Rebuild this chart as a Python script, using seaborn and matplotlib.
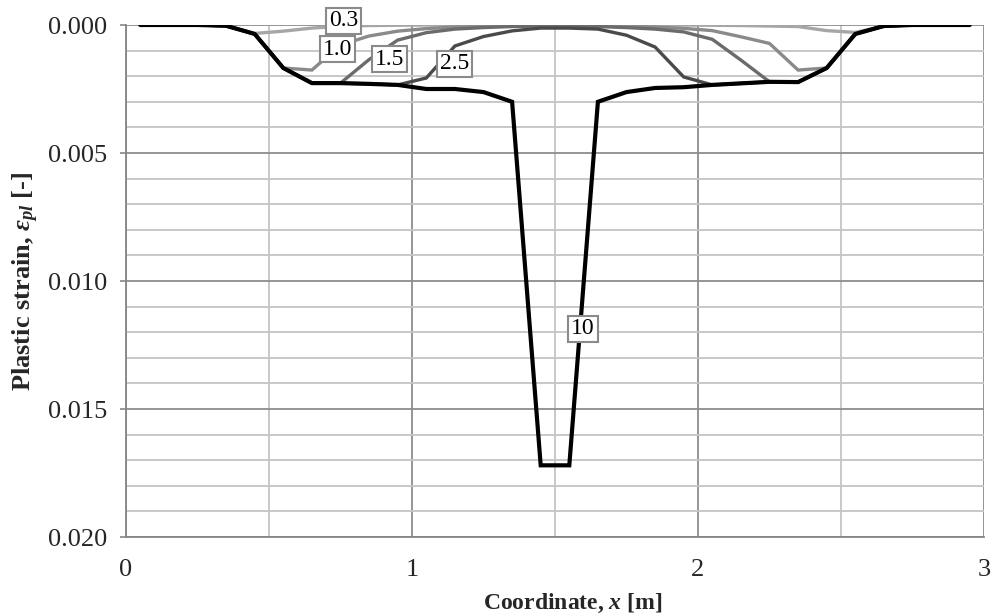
import matplotlib
matplotlib.use("Agg")
import matplotlib.pyplot as plt
import numpy as np
import pandas as pd
import seaborn as sns

# node coordinates [m]
x_nodes = [0.05, 0.15, 0.25, 0.35, 0.45, 0.55, 0.65, 0.75, 0.85, 0.95,
           1.05, 1.15, 1.25, 1.35, 1.45, 1.55, 1.65, 1.75, 1.85, 1.95,
           2.05, 2.15, 2.25, 2.35, 2.45, 2.55, 2.65, 2.75, 2.85, 2.95]

# plastic strain per load level
eps_03 = [0, 0, 0, 0.00003, 0.00033, 0.00024, 0.00012, 0.00005, 0.00002, 0.00001,
          0, 0, 0, 0, 0, 0, 0, 0, 0, 0,
          0.00001, 0.00002, 0.00004, 0.00006, 0.00022, 0.00029, 0.00004, 0, 0, 0]
eps_10 = [0, 0, 0, 0.00003, 0.00035, 0.00168, 0.00176, 0.00078, 0.00043, 0.00024,
          0.00014, 0.00008, 0.00005, 0.00003, 0.00002, 0.00002, 0.00003, 0.00005, 0.00008, 0.00013,
          0.00022, 0.00046, 0.00072, 0.00176, 0.00168, 0.00035, 0.00004, 0, 0, 0]
eps_15 = [0, 0, 0, 0.00003, 0.00035, 0.00168, 0.00227, 0.00227, 0.00135, 0.00059,
          0.00030, 0.00016, 0.00010, 0.00006, 0.00004, 0.00004, 0.00006, 0.00010, 0.00016, 0.00027,
          0.00056, 0.00137, 0.00222, 0.00223, 0.00168, 0.00035, 0.00004, 0, 0, 0]
eps_25 = [0, 0, 0, 0.00003, 0.00035, 0.00168, 0.00227, 0.00227, 0.00230, 0.00234,
          0.00207, 0.00082, 0.00045, 0.00023, 0.00012, 0.00012, 0.00016, 0.00040, 0.00086, 0.00203,
          0.00234, 0.00228, 0.00222, 0.00223, 0.00168, 0.00035, 0.00004, 0, 0, 0]
eps_100 = [0, 0, 0, 0.00003, 0.00035, 0.00168, 0.00227, 0.00227, 0.00230, 0.00234,
           0.00250, 0.00250, 0.00262, 0.00300, 0.01720, 0.01720, 0.00300, 0.00262, 0.00246, 0.00243,
           0.00234, 0.00228, 0.00222, 0.00223, 0.00168, 0.00035, 0.00004, 0, 0, 0]

levels = ["0.3", "1.0", "1.5", "2.5", "10"]
series = [eps_03, eps_10, eps_15, eps_25, eps_100]
colors = ["#a6a6a6", "#8a8a8a", "#6b6b6b", "#4a4a4a", "#000000"]
widths = [2.4, 2.4, 2.4, 2.4, 3.0]
label_pos = [(0.76, -0.00016), (0.741, 0.00094), (0.923, 0.00133), (1.15, 0.00152), (1.598, 0.01187)]

df = pd.concat([pd.DataFrame({"x": x_nodes, "eps": s, "level": lv})
                for lv, s in zip(levels, series)], ignore_index=True)

sns.set_theme(style="white")
plt.rcParams.update({
    "font.family": ["Liberation Serif", "DejaVu Serif"],
    "mathtext.fontset": "custom",
    "mathtext.rm": "Liberation Serif",
    "mathtext.it": "Liberation Serif:italic:bold",
    "mathtext.bf": "Liberation Serif:bold",
})

fig = plt.figure(figsize=(9.92, 6.14), dpi=100, facecolor="white")
ax = fig.add_axes([126 / 992, 1 - 537 / 614, 858 / 992, 512 / 614])

sns.lineplot(data=df, x="x", y="eps", hue="level", hue_order=levels,
             palette=dict(zip(levels, colors)), legend=False, ax=ax,
             estimator=None, sort=False)
for line, w in zip(ax.lines, widths):
    line.set_linewidth(w)
    line.set_solid_joinstyle("miter")
    line.set_zorder(3)

for lv, (lx, ly) in zip(levels, label_pos):
    ax.text(lx, ly, lv, ha="center", va="center", fontsize=17, color="#000000",
            zorder=5, clip_on=False,
            bbox=dict(boxstyle="square,pad=0.12", fc="white", ec="#8a8a8a", lw=1.5))

ax.set_xlim(0, 3)
ax.set_ylim(0.020, 0.0)
ax.set_xticks([0, 1, 2, 3])
ax.set_xticks([0.5, 1.5, 2.5], minor=True)
ax.set_yticks([0.0, 0.005, 0.010, 0.015, 0.020])
ax.set_yticks(np.arange(0.001, 0.020, 0.001), minor=True)
ax.set_yticklabels(["0.000", "0.005", "0.010", "0.015", "0.020"])

ax.grid(which="major", color="#8c8c8c", lw=1.3)
ax.grid(which="minor", color="#c4c4c4", lw=1.3)
ax.set_axisbelow(True)
for side in ["top", "right"]:
    ax.spines[side].set_visible(False)
for side in ["left", "bottom"]:
    ax.spines[side].set_color("#868686")
    ax.spines[side].set_linewidth(1.3)

ax.tick_params(axis="y", which="major", direction="out", length=4.5, width=1.2,
               color="#868686", labelsize=19, pad=9, left=True)
ax.tick_params(axis="y", which="minor", length=0)
ax.tick_params(axis="x", which="both", length=0, labelsize=19, pad=16)

ax.set_xlabel(r"Coordinate, $x$ [m]", fontsize=17, fontweight="bold", labelpad=8, x=0.521)
ax.set_ylabel(r"Plastic strain, $\varepsilon_{pl}$ [-]", fontsize=19, fontweight="bold", labelpad=5)

fig.savefig("out.png", dpi=100, facecolor="white")
